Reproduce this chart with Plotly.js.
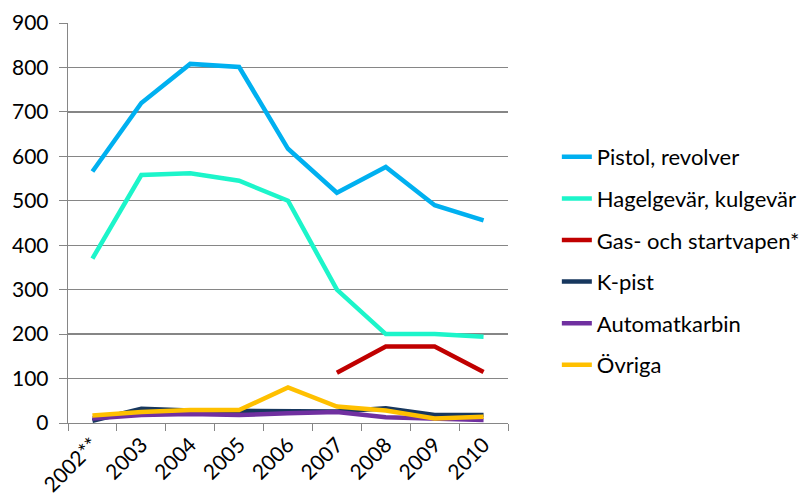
<!DOCTYPE html>
<html>
<head>
<meta charset="utf-8">
<script src="https://cdn.plot.ly/plotly-3.0.1.min.js"></script>
<style>html,body{margin:0;padding:0;background:#fff;}#chart{width:804px;height:499px;}</style>
</head>
<body>
<div id="chart"></div>
<script>
const years = ["2002**","2003","2004","2005","2006","2007","2008","2009","2010"];
const seriesNames = ["Pistol, revolver","Hagelgevär, kulgevär","Gas- och startvapen*","K-pist","Automatkarbin","Övriga"];
const pistol = [566, 720, 808, 801, 617, 518, 576, 490, 456];
const hagel = [370, 558, 562, 545, 500, 300, 200, 200, 194];
const gas = [null, null, null, null, null, 113, 172, 172, 115];
const kpist = [5, 32, 28, 27, 28, 26, 33, 18, 18];
const automat = [10, 18, 20, 18, 22, 25, 13, 9, 7];
const ovriga = [17, 25, 29, 29, 80, 37, 28, 10, 14];
const colors = ["#00B0F0","#1CF5CA","#C00000","#17375E","#7030A0","#FFC000"];
const values = [pistol, hagel, gas, kpist, automat, ovriga];
const yTicks = [0,100,200,300,400,500,600,700,800,900];

const font = "Lato, 'Open Sans', sans-serif";
const traces = values.map((v,i)=>({
  x: years, y: v, name: seriesNames[i], type: "scatter", mode: "lines",
  line: {color: colors[i], width: 4.5}, legendgroup: "g"+i,
  connectgaps: false
}));
const layout = {
  width: 804, height: 499,
  margin: {l: 68, r: 296, t: 23, b: 76, autoexpand: false},
  paper_bgcolor: "#fff", plot_bgcolor: "#fff",
  font: {family: font, size: 21, color: "#000"},
  showlegend: true,
  legend: {x: 1.111, y: 0.405, xanchor: "left", yanchor: "middle", traceorder: "grouped",
           tracegroupgap: 10, font: {family: font, size: 22, color: "#000"}, bgcolor: "rgba(0,0,0,0)"},
  xaxis: {type: "category", tickvals: years, ticktext: years, tickangle: -45, automargin: false,
          showgrid: false, showline: true, linecolor: "#868686", linewidth: 1.3,
          ticks: "outside", tickson: "boundaries", ticklen: 7, tickcolor: "#868686",
          tickfont: {family: font, size: 21}, range: [-0.5, 8.5], zeroline: false},
  yaxis: {range: [0, 900], tickvals: yTicks, showgrid: true, gridcolor: "#868686", gridwidth: 1.3, automargin: false,
          showline: true, linecolor: "#868686", linewidth: 1.3, ticks: "outside", ticklen: 8,
          ticklabelstandoff: 6,
          tickcolor: "#868686", zeroline: false, tickfont: {family: font, size: 21}}
};
Plotly.newPlot("chart", traces, layout, {staticPlot: true, displayModeBar: false});
</script>
</body>
</html>
